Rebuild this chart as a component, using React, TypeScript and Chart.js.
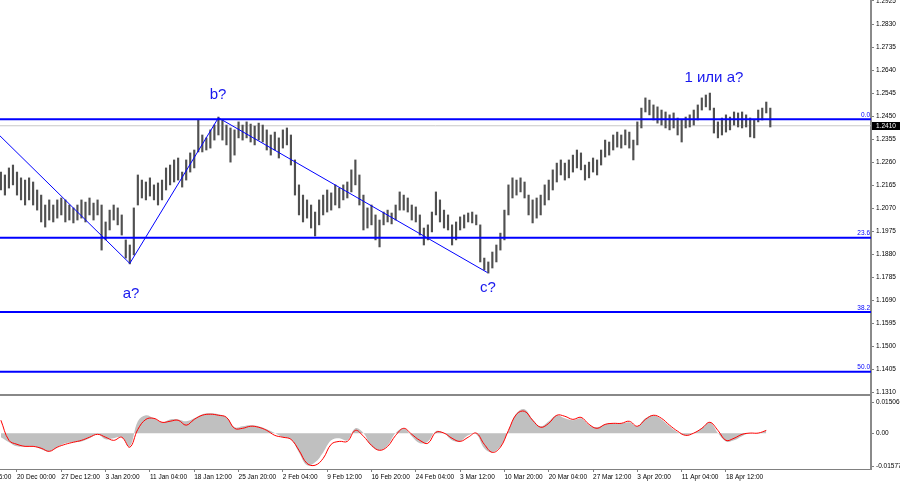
import React, { useEffect, useRef } from 'react';
import { Chart, registerables } from 'chart.js';

Chart.register(...registerables);

// ---- price bars (high / low per bar, bar index = position in array) ----
const barHigh = [
  1.2219, 1.2207, 1.2236, 1.2248, 1.2219, 1.2195, 1.2186, 1.2195, 1.2178, 1.2145,
  1.2124, 1.2083, 1.2104, 1.2083, 1.2104, 1.2112, 1.2104, 1.2083, 1.2071, 1.2083,
  1.2104, 1.2095, 1.2112, 1.2091, 1.2104, 1.2083, 1.2013, 1.2062, 1.2083, 1.2071,
  1.2042, 1.1939, 1.1918, 1.2071, 1.2207, 1.2186, 1.2178, 1.2195, 1.2166, 1.2174,
  1.2186, 1.2236, 1.2248, 1.2269, 1.2277, 1.2219, 1.2269, 1.2298, 1.2310, 1.2434,
  1.2372, 1.2360, 1.2393, 1.2413, 1.2446, 1.2434, 1.2413, 1.2401, 1.2393, 1.2426,
  1.2413, 1.2426, 1.2417, 1.2409, 1.2421, 1.2413, 1.2393, 1.2372, 1.2384, 1.2360,
  1.2393, 1.2401, 1.2372, 1.2269, 1.2166, 1.2124, 1.2104, 1.2083, 1.2054, 1.2104,
  1.2124, 1.2145, 1.2133, 1.2166, 1.2153, 1.2166, 1.2178, 1.2228, 1.2269, 1.2207,
  1.2124, 1.2071, 1.2083, 1.2042, 1.2021, 1.2054, 1.2062, 1.2050, 1.2083, 1.2137,
  1.2124, 1.2112, 1.2083, 1.2075, 1.2042, 1.1988, 1.2001, 1.2054, 1.2137, 1.2104,
  1.2062, 1.2042, 1.2001, 1.2013, 1.2034, 1.2042, 1.2050, 1.2054, 1.2042, 1.2001,
  1.1864, 1.1848, 1.1889, 1.1918, 1.1967, 1.2062, 1.2166, 1.2195, 1.2186, 1.2195,
  1.2178, 1.2124, 1.2104, 1.2112, 1.2124, 1.2166, 1.2186, 1.2228, 1.2256, 1.2269,
  1.2256, 1.2269, 1.2289, 1.2310, 1.2298, 1.2248, 1.2260, 1.2277, 1.2269, 1.2310,
  1.2351, 1.2343, 1.2372, 1.2384, 1.2372, 1.2393, 1.2384, 1.2351, 1.2426, 1.2483,
  1.2525, 1.2516, 1.2496, 1.2488, 1.2475, 1.2467, 1.2455, 1.2463, 1.2442, 1.2434,
  1.2446, 1.2455, 1.2475, 1.2496, 1.2525, 1.2537, 1.2545, 1.2483, 1.2426, 1.2442,
  1.2455, 1.2446, 1.2467, 1.2463, 1.2467, 1.2455, 1.2442, 1.2434, 1.2475, 1.2483,
  1.2508, 1.2483,
];
const barLow = [
  1.2145, 1.2124, 1.2153, 1.2166, 1.2124, 1.2104, 1.2083, 1.2104, 1.2083, 1.2062,
  1.2013, 1.1992, 1.2021, 1.2013, 1.2029, 1.2042, 1.2013, 1.2021, 1.2009, 1.2021,
  1.2029, 1.2013, 1.2042, 1.2021, 1.2042, 1.1897, 1.1939, 1.1980, 1.2021, 1.2001,
  1.1959, 1.1864, 1.1840, 1.1877, 1.2083, 1.2112, 1.2104, 1.2120, 1.2104, 1.2083,
  1.2104, 1.2145, 1.2166, 1.2178, 1.2186, 1.2157, 1.2186, 1.2219, 1.2236, 1.2302,
  1.2302, 1.2310, 1.2318, 1.2351, 1.2372, 1.2351, 1.2331, 1.2260, 1.2289, 1.2360,
  1.2351, 1.2360, 1.2343, 1.2331, 1.2351, 1.2343, 1.2310, 1.2289, 1.2310, 1.2277,
  1.2318, 1.2331, 1.2248, 1.2124, 1.2042, 1.2013, 1.2029, 1.1988, 1.1955, 1.2001,
  1.2042, 1.2054, 1.2062, 1.2083, 1.2071, 1.2104, 1.2112, 1.2137, 1.2166, 1.2083,
  1.1980, 1.1988, 1.2001, 1.1939, 1.1910, 1.2001, 1.2013, 1.2005, 1.2021, 1.2062,
  1.2062, 1.2054, 1.2021, 1.2013, 1.1959, 1.1918, 1.1939, 1.1972, 1.2042, 1.2013,
  1.1988, 1.1980, 1.1918, 1.1939, 1.1980, 1.1988, 1.2013, 1.2009, 1.2001, 1.1848,
  1.1815, 1.1802, 1.1823, 1.1848, 1.1897, 1.1939, 1.2042, 1.2112, 1.2124, 1.2137,
  1.2112, 1.2042, 1.2009, 1.2029, 1.2042, 1.2083, 1.2104, 1.2145, 1.2178, 1.2207,
  1.2186, 1.2195, 1.2219, 1.2236, 1.2228, 1.2186, 1.2195, 1.2219, 1.2207, 1.2248,
  1.2281, 1.2289, 1.2310, 1.2322, 1.2318, 1.2331, 1.2318, 1.2269, 1.2331, 1.2401,
  1.2467, 1.2455, 1.2434, 1.2421, 1.2413, 1.2401, 1.2393, 1.2401, 1.2372, 1.2343,
  1.2401, 1.2405, 1.2413, 1.2434, 1.2475, 1.2488, 1.2475, 1.2380, 1.2360, 1.2372,
  1.2384, 1.2393, 1.2413, 1.2405, 1.2401, 1.2405, 1.2364, 1.2360, 1.2426, 1.2434,
  1.2463, 1.2405,
];

// ---- oscillator (MACD histogram + signal), sampled every 2 bars ----
const oscIdx = Array.from({ length: 96 }, (_, k) => k * 2);
const macdHist = [
  -0.0019, -0.0043, -0.0063, -0.0063, -0.0063, -0.0077, -0.0087, -0.0067, -0.0048, -0.0043,
  -0.0039, -0.0024, -0.0005, -0.0029, -0.0024, -0.0019, -0.0063, 0.0058, 0.0087, 0.0072,
  0.0053, 0.0067, 0.0067, 0.0058, 0.0072, 0.0092, 0.0096, 0.0092, 0.0077, 0.0029,
  0.0034, 0.0039, 0.0034, 0.0019, 0.0001, -0.0019, -0.0029, -0.0092, -0.0154, -0.0140,
  -0.0092, -0.0034, -0.0024, -0.0034, 0.0024, 0.0001, -0.0063, -0.0082, -0.0058, 0.0001,
  0.0024, -0.0014, -0.0048, -0.0039, 0.0010, 0.0001, -0.0034, -0.0039, -0.0010, -0.0005,
  -0.0072, -0.0092, -0.0063, 0.0014, 0.0096, 0.0116, 0.0067, 0.0034, 0.0058, 0.0087,
  0.0072, 0.0063, 0.0072, 0.0039, 0.0029, 0.0043, 0.0048, 0.0048, 0.0053, 0.0034,
  0.0072, 0.0087, 0.0067, 0.0034, 0.0005, -0.0010, 0.0001, 0.0024, 0.0053, 0.0001,
  -0.0039, -0.0034, -0.0014, 0.0001, 0.0001, 0.0014,
];
const macdSignal = [
  0.0063, -0.0034, -0.0053, -0.0063, -0.0063, -0.0072, -0.0087, -0.0067, -0.0053, -0.0043,
  -0.0034, -0.0019, -0.0005, -0.0019, -0.0034, -0.0019, -0.0067, 0.0019, 0.0067, 0.0072,
  0.0053, 0.0058, 0.0063, 0.0039, 0.0067, 0.0087, 0.0092, 0.0087, 0.0077, 0.0024,
  0.0024, 0.0034, 0.0029, 0.0014, -0.0010, -0.0019, -0.0029, -0.0082, -0.0145, -0.0154,
  -0.0121, -0.0053, -0.0039, -0.0039, 0.0014, -0.0014, -0.0058, -0.0082, -0.0063, -0.0010,
  0.0024, -0.0005, -0.0034, -0.0048, 0.0005, 0.0001, -0.0024, -0.0039, -0.0019, 0.0001,
  -0.0053, -0.0092, -0.0067, 0.0014, 0.0092, 0.0106, 0.0063, 0.0029, 0.0048, 0.0087,
  0.0082, 0.0067, 0.0077, 0.0043, 0.0024, 0.0043, 0.0048, 0.0048, 0.0058, 0.0034,
  0.0067, 0.0087, 0.0072, 0.0039, 0.0010, -0.0010, 0.0001, 0.0024, 0.0053, 0.0014,
  -0.0034, -0.0024, -0.0005, 0.0001, 0.0001, 0.0014,
];

// ---- axes ----
const priceTicks = [
  1.2925, 1.283, 1.2735, 1.264, 1.2545, 1.245, 1.2355, 1.226, 1.2165,
  1.207, 1.1975, 1.188, 1.1785, 1.169, 1.1595, 1.15, 1.1405, 1.131,
];
const oscTicks = [0.01506, 0, -0.01577];
const oscTickLabels = ['0.01506', '0.00', '-0.01577'];
const timeTickIdx = [-7, 4, 15, 26, 37, 48, 59, 70, 81, 92, 103, 114, 125, 136, 147, 158, 169, 180];
const timeLabels = [
  '12 Dec 16:00', '20 Dec 00:00', '27 Dec 12:00', '3 Jan 20:00', '11 Jan 04:00', '18 Jan 12:00',
  '25 Jan 20:00', '2 Feb 04:00', '9 Feb 12:00', '16 Feb 20:00', '24 Feb 04:00', '3 Mar 12:00',
  '10 Mar 20:00', '20 Mar 04:00', '27 Mar 12:00', '3 Apr 20:00', '11 Apr 04:00', '18 Apr 12:00',
];
const xRange = [-0.22, 216.0];
const priceRange = [1.12989, 1.29291];
const oscRange = [-0.0172, 0.01845];

// ---- annotations ----
const fibLevels = [1.2437, 1.1948, 1.1641, 1.1395];
const fibLabels = ['0.0', '23.6', '38.2', '50.0'];
const currentPrice = 1.241;
const waveX = [-10, 32, 54, 120.8];
const waveY = [1.2528, 1.1842, 1.2443, 1.1804];
const noteTexts = ['a?', 'b?', 'c?', '1 или а?'];
const noteX = [32.3, 53.9, 120.9, 177.0];
const noteY = [1.1716, 1.2537, 1.1741, 1.2607];

const TICK_FONT = { family: 'Liberation Sans', size: 6.5 };
const BLUE = '#0000ff';

const overlayPlugin = {
  id: 'mtOverlay',
  afterDatasetsDraw(chart: any) {
    const { ctx, chartArea } = chart;
    const xs = chart.scales.x;
    const ys = chart.scales.y;
    ctx.save();
    ctx.fillStyle = BLUE;
    ctx.font = '6.5px "Liberation Sans"';
    ctx.textAlign = 'right';
    ctx.textBaseline = 'bottom';
    fibLevels.forEach((lv, k) => {
      const py = ys.getPixelForValue(lv);
      ctx.fillText(fibLabels[k], chartArea.right - 1, py - 1);
    });
    ctx.fillStyle = '#1818ee';
    ctx.font = '15px "Liberation Sans"';
    ctx.textAlign = 'center';
    ctx.textBaseline = 'middle';
    noteTexts.forEach((t, k) => {
      ctx.fillText(t, xs.getPixelForValue(noteX[k]), ys.getPixelForValue(noteY[k]));
    });
    ctx.restore();
  },
  afterDraw(chart: any) {
    const { ctx, chartArea } = chart;
    const ys = chart.scales.y;
    ctx.save();
    ctx.strokeStyle = '#888888';
    ctx.lineWidth = 2;
    ctx.beginPath();
    ctx.moveTo(chartArea.left, ys.bottom);
    ctx.lineTo(chartArea.right, ys.bottom);
    ctx.stroke();
    const py = Math.round(ys.getPixelForValue(currentPrice));
    ctx.fillStyle = '#000';
    ctx.fillRect(ys.left + 1, py - 4, chart.width - ys.left - 1, 8);
    ctx.fillStyle = '#fff';
    ctx.font = '6.5px "Liberation Sans"';
    ctx.textAlign = 'left';
    ctx.textBaseline = 'middle';
    ctx.fillText(currentPrice.toFixed(4), ys.left + 5, py + 0.5);
    ctx.restore();
  },
};

export default function App() {
  const ref = useRef<HTMLCanvasElement>(null);

  useEffect(() => {
    if (!ref.current) return;
    Chart.defaults.font.family = 'Liberation Sans';
    const bars = barHigh.map((h, i) => ({ x: i, y: [barLow[i], h] }));
    const fibSets = fibLevels.map((lv) => ({
      type: 'line' as const,
      data: [{ x: -5, y: lv }, { x: 230, y: lv }],
      borderColor: BLUE,
      borderWidth: 2,
      pointRadius: 0,
      yAxisID: 'y',
      order: 1,
    }));
    const chart = new Chart(ref.current, {
      type: 'bar',
      data: {
        datasets: [
          {
            type: 'line',
            data: waveX.map((x, k) => ({ x, y: waveY[k] })),
            borderColor: BLUE,
            borderWidth: 1,
            pointRadius: 0,
            tension: 0,
            yAxisID: 'y',
            order: 0,
          } as any,
          ...fibSets,
          {
            type: 'line',
            data: oscIdx.map((x, k) => ({ x, y: macdSignal[k] })),
            borderColor: '#ff0000',
            borderWidth: 1,
            pointRadius: 0,
            tension: 0.4,
            yAxisID: 'y2',
            order: 2,
          },
          {
            type: 'bar',
            data: bars as any,
            backgroundColor: '#505050',
            borderWidth: 0,
            barThickness: 1.5,
            yAxisID: 'y',
            order: 3,
          },
          {
            type: 'line',
            data: oscIdx.map((x, k) => ({ x, y: macdHist[k] })),
            borderWidth: 0,
            borderColor: 'rgba(0,0,0,0)',
            backgroundColor: '#c0c0c0',
            fill: 'origin',
            pointRadius: 0,
            tension: 0.4,
            yAxisID: 'y2',
            order: 4,
          },
          {
            type: 'line',
            data: [{ x: -5, y: currentPrice }, { x: 230, y: currentPrice }],
            borderColor: '#c8c8c8',
            borderWidth: 1,
            pointRadius: 0,
            yAxisID: 'y',
            order: 5,
          },
        ] as any,
      },
      options: {
        animation: false,
        responsive: false,
        devicePixelRatio: 1,
        layout: { autoPadding: false, padding: 0 },
        plugins: { legend: { display: false }, tooltip: { enabled: false } },
        events: [],
        scales: {
          x: {
            type: 'linear',
            position: 'bottom',
            min: xRange[0],
            max: xRange[1],
            offset: false,
            grid: { drawOnChartArea: false, offset: false, tickLength: 3, color: '#808080' },
            border: { color: '#808080', width: 1 },
            afterBuildTicks: (s: any) => {
              s.ticks = timeTickIdx.map((v) => ({ value: v }));
            },
            afterFit: (s: any) => {
              s.height = 16;
              s.paddingLeft = 0;
              s.paddingRight = 0;
            },
            ticks: {
              autoSkip: false,
              maxRotation: 0,
              minRotation: 0,
              align: 'start',
              padding: 1,
              color: '#000',
              font: TICK_FONT,
              callback: (v: any) => {
                const k = timeTickIdx.indexOf(v);
                return k >= 0 ? timeLabels[k] : '';
              },
            },
          },
          y: {
            type: 'linear',
            position: 'right',
            stack: 'win',
            stackWeight: 395,
            min: priceRange[0],
            max: priceRange[1],
            grid: { drawOnChartArea: false, tickLength: 3, color: '#808080' },
            border: { color: '#8a8a8a', width: 2 },
            afterBuildTicks: (s: any) => {
              s.ticks = priceTicks.map((v) => ({ value: v }));
            },
            afterFit: (s: any) => {
              s.width = 29;
              s.paddingTop = 0;
              s.paddingBottom = 0;
            },
            ticks: {
              autoSkip: false,
              padding: 2,
              color: '#000',
              font: TICK_FONT,
              callback: (v: any) => Number(v).toFixed(4),
            },
          },
          y2: {
            type: 'linear',
            position: 'right',
            stack: 'win',
            stackWeight: 74,
            min: oscRange[0],
            max: oscRange[1],
            grid: { drawOnChartArea: false, tickLength: 3, color: '#808080' },
            border: { color: '#8a8a8a', width: 2 },
            afterBuildTicks: (s: any) => {
              s.ticks = oscTicks.map((v) => ({ value: v }));
            },
            afterFit: (s: any) => {
              s.width = 29;
              s.paddingTop = 0;
              s.paddingBottom = 0;
            },
            ticks: {
              autoSkip: false,
              padding: 2,
              color: '#000',
              font: TICK_FONT,
              callback: (v: any) => {
                const k = oscTicks.indexOf(v);
                return k >= 0 ? oscTickLabels[k] : '';
              },
            },
          },
        },
      } as any,
      plugins: [overlayPlugin],
    });
    return () => chart.destroy();
  }, []);

  return (
    <div style={{ position: 'fixed', left: 0, top: 0, width: 900, height: 485, background: '#fff' }}>
      <canvas ref={ref} width={900} height={485} style={{ display: 'block', width: 900, height: 485 }} />
    </div>
  );
}
